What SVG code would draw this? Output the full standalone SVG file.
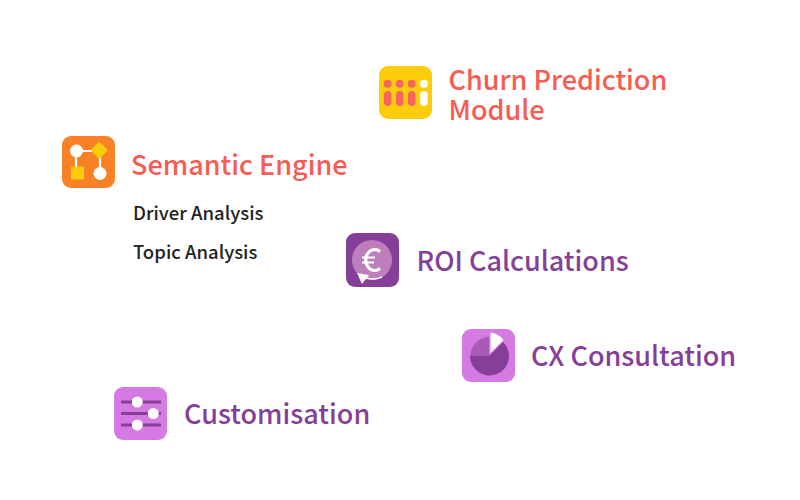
<svg xmlns="http://www.w3.org/2000/svg" width="800" height="500" viewBox="0 0 800 500">
<style>
text{font-family:"Noto Sans CJK SC","Noto Sans",sans-serif;font-weight:500}
.t{font-size:27px}
.red{fill:#f95b52}
.dot{fill:#f5665c}
.pur{fill:#853f98}
.sub{font-size:18.5px;fill:#222}
.w{fill:#fff}
.line{stroke:#853f98;stroke-width:3;fill:none}
</style>
<rect width="800" height="500" fill="#fff"/>
<g id="connectors"></g>
<g id="churn">
<rect x="379" y="66" width="53" height="53" rx="9" fill="#ffcc0c"/>
<g class="dot">
<circle cx="387.700" cy="83.700" r="4"/><circle cx="399.700" cy="83.700" r="4"/><circle cx="411.700" cy="83.700" r="4"/>
<rect x="384" y="91" width="7.500" height="15" rx="3.750"/><rect x="396" y="91" width="7.500" height="15" rx="3.750"/><rect x="408" y="91" width="7.500" height="15" rx="3.750"/>
</g>
<circle class="w" cx="424" cy="83.700" r="4"/><rect class="w" x="420.200" y="91" width="7.500" height="15" rx="3.750"/>
<text class="t red" x="448.500" y="89.500">Churn Prediction</text>
<text class="t red" x="448.500" y="119.500">Module</text>
</g>
<g id="semantic">
<rect x="62" y="136" width="53" height="52" rx="9" fill="#f98125"/>
<path d="M76 151H99M76 151V173M100 151V173" stroke="#fff" stroke-width="2.200" fill="none"/>
<rect x="71" y="166.500" width="13" height="13" rx="1.500" fill="#ffcc0c"/>
<rect x="93" y="144" width="12.500" height="12.500" rx="1.500" fill="#ffcc0c" transform="rotate(45 99.250 150.250)"/>
<circle class="w" cx="76.500" cy="151" r="6.500"/>
<circle class="w" cx="100" cy="173.500" r="6.500"/>
<text class="t red" x="131" y="174.500">Semantic Engine</text>
<text class="sub" x="133" y="220">Driver Analysis</text>
<text class="sub" x="133" y="259">Topic Analysis</text>
</g>
<g id="roi">
<rect x="346" y="233" width="53" height="54" rx="9" fill="#853f98"/>
<circle cx="372" cy="260" r="20" fill="#bd7fbb"/>
<path d="M364 277Q373 281 382 277" stroke="#fff" stroke-width="1.600" fill="none"/>
<path d="M357 273L369 275L362 284Z" fill="#fff"/>
<path d="M380 251.500A9 10.500 0 1 0 380 268.500" stroke="#fff" stroke-width="3.200" fill="none"/>
<path d="M362 257.500H375M362 262.500H374" stroke="#fff" stroke-width="2.200" fill="none"/>
<text class="t pur" x="416.500" y="270.500">ROI Calculations</text>
</g>
<g id="cx">
<rect x="462" y="329" width="53" height="53" rx="9" fill="#d57ae2"/>
<path d="M489 355.500V337A18.500 18.500 0 0 0 470.500 355.500Z" fill="#a85bb5"/>
<path d="M489.500 355.500L503 342A19.500 19.500 0 1 1 470 355.500Z" fill="#853f98"/>
<path d="M490.500 353V332.500Q498 333 503.500 340Z" fill="#fff"/>
<text class="t pur" x="531" y="366">CX Consultation</text>
</g>
<g id="customisation">
<rect x="114" y="387" width="53" height="53" rx="9" fill="#d57ae2"/>
<path class="line" d="M121 402H161M121 413.500H161M121 425H161"/>
<circle class="w" cx="137.300" cy="402" r="5.500"/>
<circle class="w" cx="153.300" cy="413.500" r="5.500"/>
<circle class="w" cx="137.300" cy="425" r="5.500"/>
<text class="t pur" x="184" y="424">Customisation</text>
</g>
</svg>
